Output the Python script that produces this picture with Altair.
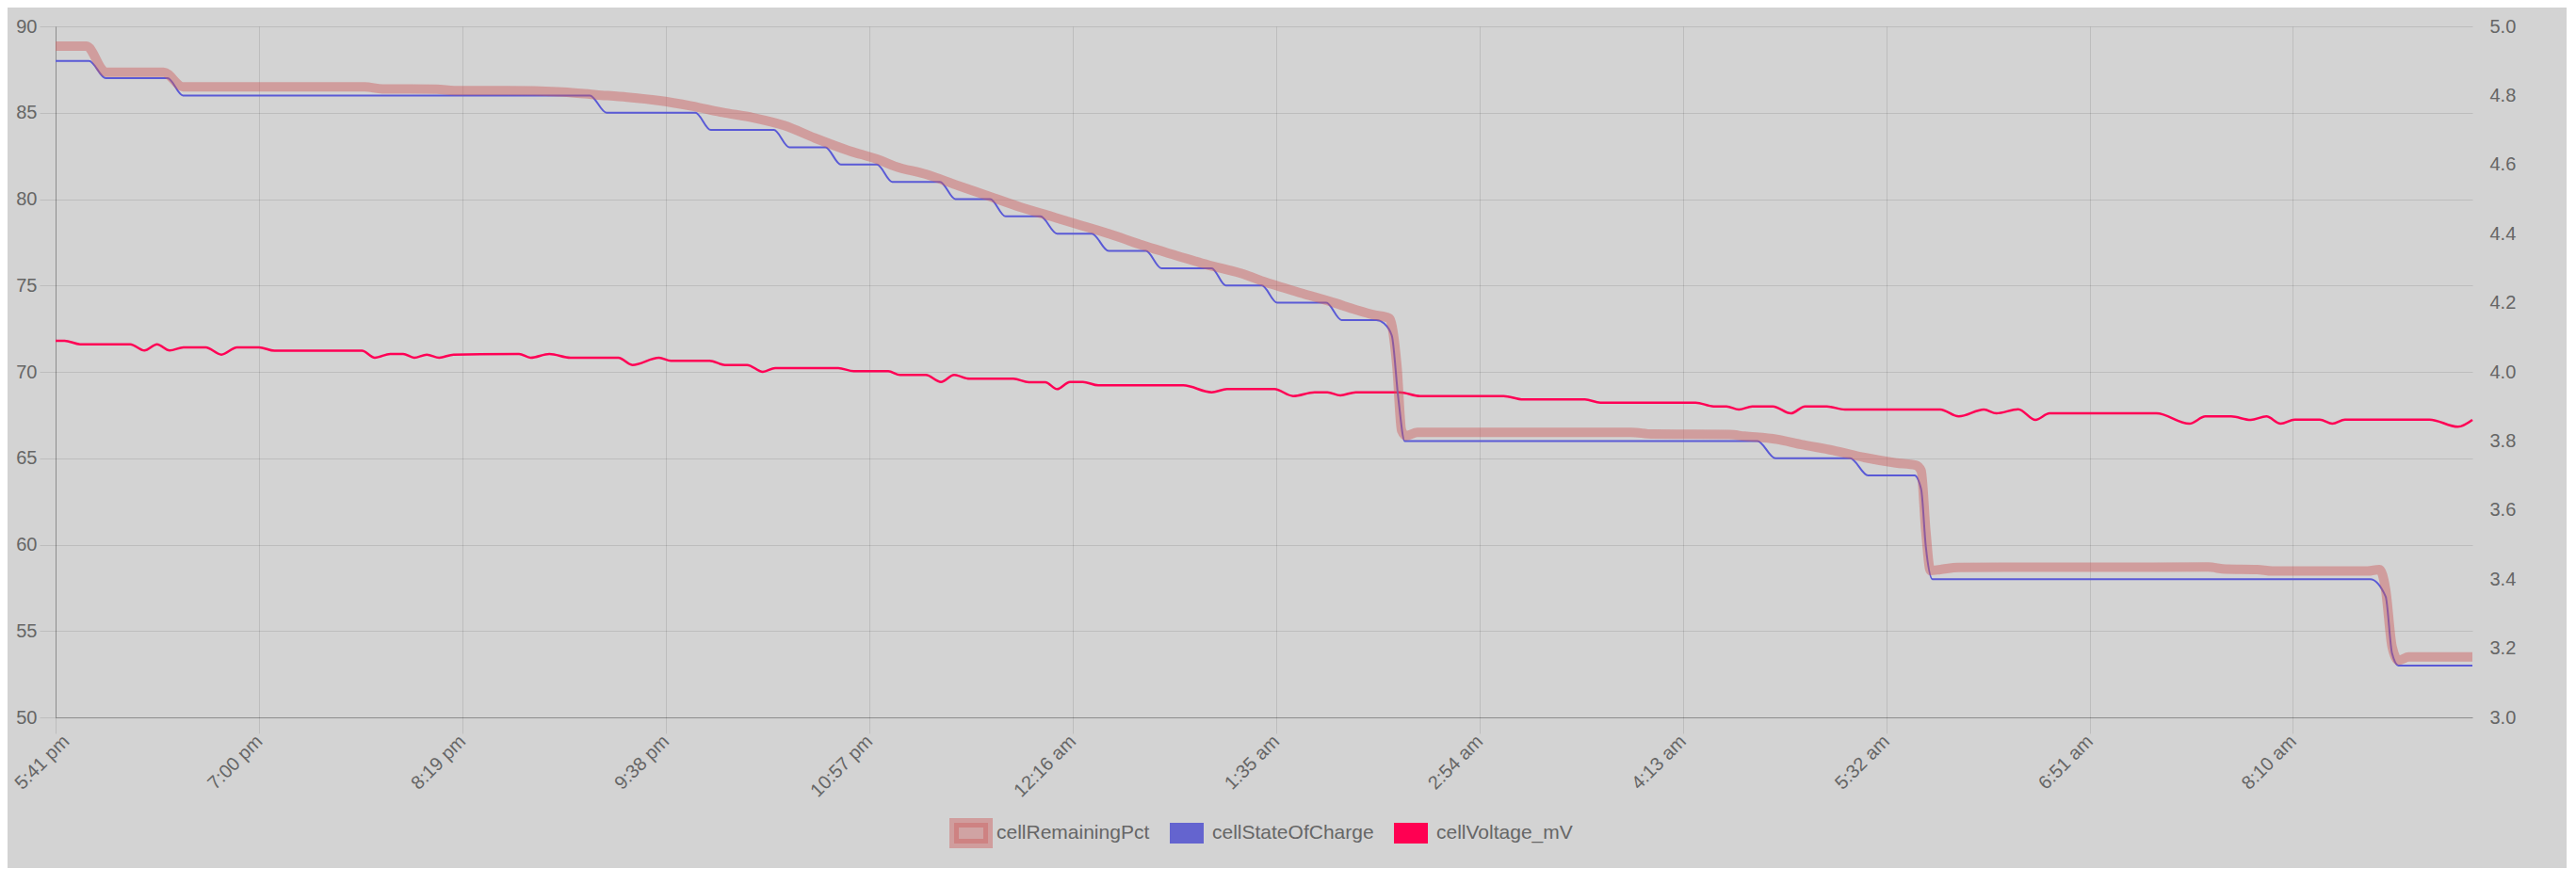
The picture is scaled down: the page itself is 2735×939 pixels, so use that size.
import altair as alt
import pandas as pd

FONT = "Liberation Sans, Arial, Helvetica, sans-serif"

SERIES = ["cellRemainingPct", "cellStateOfCharge", "cellVoltage_mV"]
TICK_LABELS = ["5:41 pm", "7:00 pm", "8:19 pm", "9:38 pm", "10:57 pm", "12:16 am",
               "1:35 am", "2:54 am", "4:13 am", "5:32 am", "6:51 am", "8:10 am"]
TICK_STEP_MIN = 79
X_END_MIN = 938.7
LEFT_TICKS = [50, 55, 60, 65, 70, 75, 80, 85, 90]
RIGHT_TICKS = [3.0, 3.2, 3.4, 3.6, 3.8, 4.0, 4.2, 4.4, 4.6, 4.8, 5.0]

# minutes after 5:41 pm
PCT_T = [0, 12, 19.5, 42, 49.5, 120, 127, 148, 155, 175, 197, 210, 222, 234, 247, 259, 271,
         283, 295, 308, 320, 326, 338, 350, 362.5, 374.7, 387, 399, 411, 423.4, 435.6, 447.8,
         460, 472, 484.4, 496.6, 505, 512, 518, 521, 522.8, 524.5, 529, 612, 620, 650, 656,
         668.5, 678, 690.4, 702.6, 714.8, 722.5, 724.6, 726.4, 728.2, 732, 739, 836, 843, 855,
         861, 898, 902.6, 905, 907.5, 910, 914, 938.7]
PCT_V = [88.85, 88.85, 87.35, 87.35, 86.5, 86.5, 86.38, 86.36, 86.28, 86.28, 86.2, 86.04,
         85.9, 85.71, 85.39, 85.02, 84.71, 84.26, 83.53, 82.81, 82.26, 81.9, 81.44, 80.81,
         80.17, 79.54, 78.99, 78.45, 77.9, 77.27, 76.72, 76.18, 75.72, 75.09, 74.54, 74.0,
         73.6, 73.3, 73.1, 70.3, 66.6, 66.3, 66.5, 66.5, 66.4, 66.37, 66.28, 66.1, 65.8,
         65.46, 65.04, 64.73, 64.6, 64.28, 60.8, 58.5, 58.56, 58.68, 58.7, 58.58, 58.56,
         58.47, 58.47, 58.56, 57.4, 54.1, 53.3, 53.5, 53.5]

SOC_T = [0, 13, 19.5, 43.5, 49.5, 207.5, 214, 248.5, 254.5, 279, 285, 299, 305, 319, 325,
         343.5, 349.5, 363, 369, 382.5, 389, 402.5, 409, 423.5, 429.5, 449, 454.5, 468.5,
         474.5, 493.5, 499.5, 513, 516, 519, 521.5, 524, 661, 668, 697, 704, 722, 724.6,
         726.4, 729, 899, 905, 907.5, 910, 938.7]
SOC_V = [88, 88, 87, 87, 86, 86, 85, 85, 84, 84, 83, 83, 82, 82, 81, 81, 80, 80, 79, 79,
         78, 78, 77, 77, 76, 76, 75, 75, 74, 74, 73, 73, 72.8, 72.1, 68.5, 66, 66, 65, 65,
         64, 64, 63.2, 59.9, 58, 58, 57, 53.7, 53, 53]

VOLT_T = [0, 3.5, 9.5, 29, 34.5, 39.4, 44.3, 49.7, 58.3, 64.4, 70.5, 79, 85, 119, 124, 130,
          135, 139.3, 144.2, 149, 154.6, 180, 184.5, 191.8, 200, 218.6, 224, 234.4, 239, 254,
          260, 268.6, 274.7, 279.5, 304, 310, 323.4, 328, 338, 343.9, 349, 355, 372, 378,
          384.4, 389, 394, 399, 405, 438, 449, 455, 473.4, 480.7, 489, 494, 499, 505, 522,
          530, 562.4, 570, 594, 600, 637, 644, 649, 653.8, 659, 667, 674, 679.5, 688, 695,
          732, 739.2, 749, 753.8, 762.3, 769, 774.5, 816, 828.8, 835, 845, 852.6, 858.7,
          864.2, 869.7, 879.4, 884.3, 889.2, 922, 933.1, 938.7]
VOLT_V = [4.09, 4.09, 4.08, 4.08, 4.062, 4.08, 4.062, 4.071, 4.071, 4.05, 4.071, 4.071,
          4.061, 4.061, 4.041, 4.052, 4.052, 4.041, 4.05, 4.041, 4.05, 4.052, 4.041, 4.052,
          4.041, 4.041, 4.02, 4.041, 4.032, 4.032, 4.02, 4.02, 4.0, 4.011, 4.011, 4.002,
          4.002, 3.991, 3.991, 3.971, 3.991, 3.98, 3.98, 3.97, 3.97, 3.95, 3.971, 3.971,
          3.961, 3.961, 3.941, 3.95, 3.95, 3.93, 3.941, 3.941, 3.932, 3.941, 3.941, 3.93,
          3.93, 3.92, 3.92, 3.911, 3.911, 3.9, 3.9, 3.891, 3.9, 3.9, 3.88, 3.9, 3.9, 3.891,
          3.891, 3.871, 3.891, 3.88, 3.892, 3.861, 3.88, 3.88, 3.85, 3.871, 3.871, 3.861,
          3.871, 3.85, 3.862, 3.862, 3.85, 3.862, 3.862, 3.841, 3.861]

pct = pd.DataFrame({"t": PCT_T, "v": PCT_V, "series": SERIES[0]})
soc = pd.DataFrame({"t": SOC_T, "v": SOC_V, "series": SERIES[1]})
volt = pd.DataFrame({"t": VOLT_T, "v": VOLT_V, "series": SERIES[2]})

GRID = "rgba(0,0,0,0.1)"
label_expr = "[" + ",".join("'%s'" % s for s in TICK_LABELS) + "][round(datum.value / %d)]" % TICK_STEP_MIN

x_enc = alt.X(
    "t:Q",
    scale=alt.Scale(domain=[0, X_END_MIN], nice=False, zero=False),
    axis=alt.Axis(
        values=[i * TICK_STEP_MIN for i in range(len(TICK_LABELS))],
        labelExpr=label_expr, labelAngle=-45, labelAlign="right", labelBaseline="middle",
        labelPadding=5, tickSize=17, tickColor=GRID, grid=True, gridColor=GRID,
        labelOffset={"condition": {"test": "datum.value == 0", "value": 11}, "value": 0},
        domainColor="rgba(0,0,0,0.25)", title=None, labelFlush=False, labelOverlap=False,
    ),
)

y_left = alt.Y(
    "v:Q",
    scale=alt.Scale(domain=[50, 90], nice=False, zero=False),
    axis=alt.Axis(values=LEFT_TICKS, tickSize=17, tickColor=GRID, grid=True, gridColor=GRID,
                  domainColor="rgba(0,0,0,0.25)", labelPadding=3, title=None),
)
y_right = alt.Y(
    "v:Q",
    scale=alt.Scale(domain=[3, 5], nice=False, zero=False),
    axis=alt.Axis(values=RIGHT_TICKS, orient="right", format=".1f", grid=False, ticks=False,
                  domain=False, labelPadding=18, title=None),
)

legend = alt.Legend(
    title=None, orient="none", legendX=949, legendY=834, direction="horizontal",
    symbolType="M-1,-0.611H1V0.611H-1Z", symbolSize=1296, symbolOpacity=1,
    symbolStrokeWidth=10,
    labelFontSize=21, labelColor="#666666", labelFont=FONT, labelOffset=4,
    labelLimit=0, columnPadding=1, padding=0,
)

pct_line = alt.Chart(pct).mark_line(
    color="#cd5c5c", strokeOpacity=0.45, strokeWidth=10, interpolate="monotone"
).encode(x=x_enc, y=y_left)
soc_line = alt.Chart(soc).mark_line(
    color="#5a5ad6", strokeWidth=2, interpolate="monotone"
).encode(x=x_enc, y=y_left)
legend_pts = alt.Chart(pct).mark_point(filled=True, opacity=0, size=1).encode(
    x=x_enc, y=y_left,
    color=alt.Color("series:N", scale=alt.Scale(
        domain=SERIES, range=["rgba(205,92,92,0.4)", "#6464cf", "#ff0052"]), legend=legend),
    stroke=alt.Stroke("series:N", scale=alt.Scale(
        domain=SERIES, range=["rgba(205,92,92,0.45)", "rgba(0,0,0,0)", "rgba(0,0,0,0)"]),
        legend=legend),
)
volt_line = alt.Chart(volt).mark_line(
    color="#ff0055", strokeWidth=2.5, interpolate="monotone"
).encode(x=x_enc, y=y_right)

left = alt.layer(soc_line, pct_line, legend_pts)
chart = (
    alt.layer(volt_line, left)
    .resolve_scale(y="independent")
    .properties(
        width=2566, height=734,
        padding={"left": 51, "top": 20, "right": 100, "bottom": 160},
        autosize=alt.AutoSizeParams(type="none"),
        background="#d3d3d3",
    )
    .configure_view(stroke=None)
    .configure_axis(labelFont=FONT, labelFontSize=20, labelColor="#666666")
)

chart.save("out.html", embed_options={"renderer": "svg", "actions": False})
